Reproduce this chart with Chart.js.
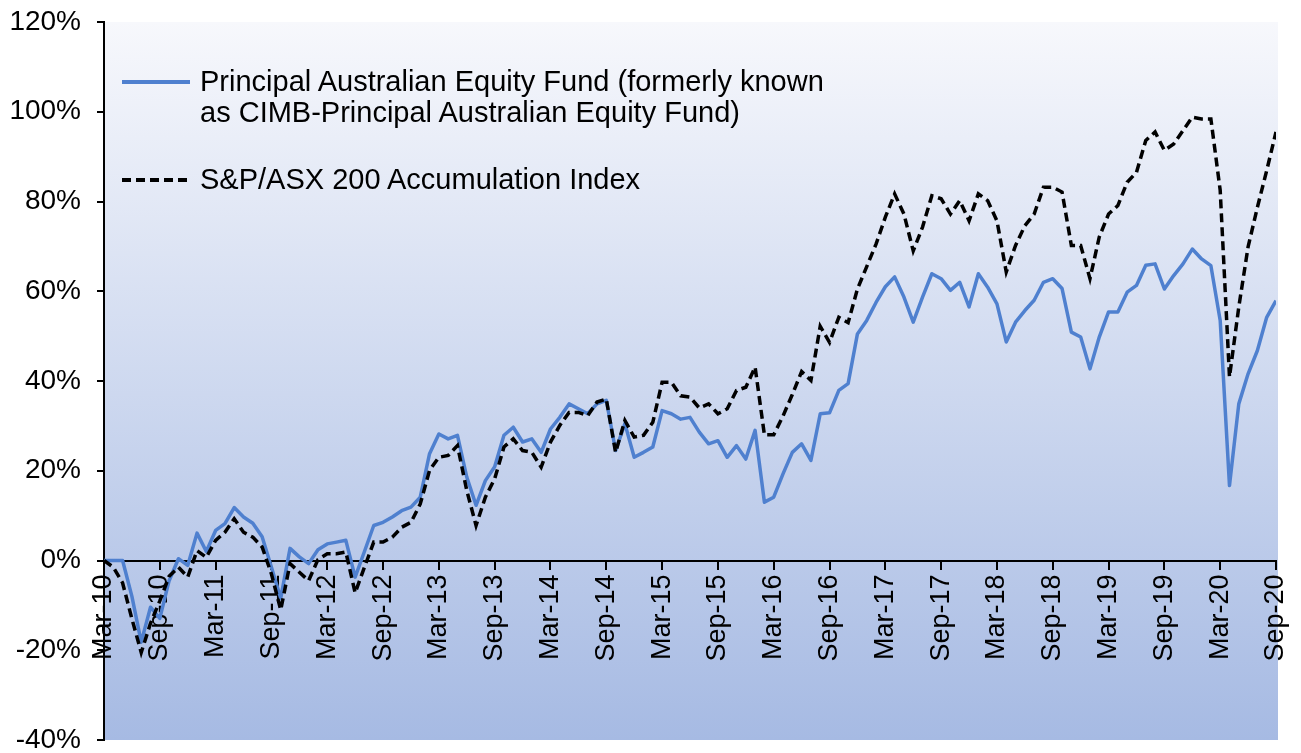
<!DOCTYPE html>
<html>
<head>
<meta charset="utf-8">
<script src="https://cdn.jsdelivr.net/npm/chart.js@4.4.1/dist/chart.umd.min.js"></script>
<style>
  html, body { margin: 0; padding: 0; background: #fff; }
  .wrap { position: relative; width: 1301px; height: 753px; }
  canvas { display: block; }
  .legend { position: absolute; left: 0; top: 0; font-family: "Liberation Sans", Arial, sans-serif; font-size: 29px; color: #000; }
  .legend div { position: absolute; white-space: nowrap; line-height: 31px; }
  .legend .s { position: absolute; left: 0; width: 68px; height: 4px; }
  .legend .t { display: inline-block; margin-left: 78px; }
</style>
</head>
<body>
<div class="wrap">
  <canvas id="perfChart" width="1301" height="753"></canvas>
  <div class="legend" id="legend"></div>
</div>
<script>
const monthNames = ["Jan","Feb","Mar","Apr","May","Jun","Jul","Aug","Sep","Oct","Nov","Dec"];
// monthly categories, Mar-10 .. Sep-20
const months = [];
for (let i = 0; i < 127; i++) {
  const k = 2 + i;
  months.push(monthNames[k % 12] + "-" + (10 + Math.floor(k / 12)));
}
const tickLabels = ["Mar-10","Sep-10","Mar-11","Sep-11","Mar-12","Sep-12","Mar-13","Sep-13",
  "Mar-14","Sep-14","Mar-15","Sep-15","Mar-16","Sep-16","Mar-17","Sep-17","Mar-18","Sep-18",
  "Mar-19","Sep-19","Mar-20","Sep-20"];
const yTicks = [-40, -20, 0, 20, 40, 60, 80, 100, 120];

const fundName = ["Principal Australian Equity Fund (formerly known", "as CIMB-Principal Australian Equity Fund)"];
const indexName = "S&P/ASX 200 Accumulation Index";

const fund = [
  0, 0, 0, -8, -18.2, -10.4, -12.9, -4.5, 0.4, -1.1,
  6.1, 2.0, 6.7, 8.2, 11.8, 9.7, 8.3, 5.3, -1.5, -8.4,
  2.7, 0.8, -0.7, 2.4, 3.7, 4.1, 4.5, -3.7, 2.0, 7.8,
  8.5, 9.7, 11.1, 11.9, 14.1, 23.8, 28.2, 27.1, 27.9, 18.6,
  12.3, 17.8, 20.9, 27.9, 29.7, 26.4, 27.1, 24.1, 29.3, 31.9,
  34.9, 33.8, 32.7, 34.9, 35.7, 24.5, 30.5, 23.0, 24.1, 25.3,
  33.4, 32.7, 31.5, 31.9, 28.6, 26.0, 26.7, 23.0, 25.6, 22.6,
  29.0, 13.0, 14.1, 19.3, 24.1, 26.0, 22.3, 32.7, 32.9, 37.9,
  39.4, 50.5, 53.5, 57.5, 61.0, 63.2, 58.7, 53.1, 58.7, 63.9,
  62.8, 60.2, 62.0, 56.5, 63.9, 60.9, 57.2, 48.7, 53.1, 55.7,
  58.0, 62.0, 62.8, 60.6, 50.9, 49.8, 42.7, 49.8, 55.4, 55.4,
  59.8, 61.3, 65.8, 66.1, 60.5, 63.5, 66.1, 69.4, 67.2, 65.7,
  53.5, 16.7, 34.9, 41.6, 46.8, 54.2, 57.9
];
const benchmark = [
  0, -1.5, -5, -13, -20.5, -14, -9, -3.5, -1.5, -3.7,
  2.2, 0.7, 4.5, 6.3, 9.3, 6.3, 5.2, 3.0, -3.0, -11.0,
  -0.7, -2.6, -4.5, 0.2, 1.5, 1.5, 1.9, -7.2, -1.5, 4.1,
  4.1, 5.2, 7.4, 8.5, 12.6, 20.1, 23.0, 23.4, 25.6, 15.6,
  7.8, 14.1, 18.2, 25.3, 27.1, 24.5, 24.1, 20.8, 26.4, 30.1,
  33.0, 33.0, 32.3, 35.3, 36.0, 24.1, 31.2, 27.5, 27.9, 30.8,
  39.7, 39.7, 36.7, 36.4, 34.0, 34.9, 32.7, 33.8, 37.9, 38.6,
  43.1, 28.0, 28.0, 32.2, 37.0, 42.1, 40.1, 52.2, 48.6, 54.2,
  53.0, 60.5, 65.5, 70.5, 76.5, 81.7, 77.2, 69.0, 74.3, 81.3,
  80.6, 77.2, 80.2, 75.7, 81.7, 80.2, 75.7, 64.3, 70.2, 74.6,
  77.2, 83.2, 83.2, 82.1, 70.2, 70.2, 62.8, 72.1, 77.2, 79.1,
  84.3, 86.5, 93.6, 95.5, 91.4, 92.8, 95.8, 98.8, 98.4, 98.4,
  82.5, 40.9, 56.5, 69.9, 78.7, 86.9, 95.5
];

const blue = "#4f80cf";
const fontFamily = '"Liberation Sans", Arial, sans-serif';

const plotBackground = {
  id: "plotBackground",
  beforeDraw(chart) {
    const {ctx, chartArea: a} = chart;
    const g = ctx.createLinearGradient(0, a.top, 0, a.bottom);
    g.addColorStop(0, "#f7f8fc");
    g.addColorStop(1, "#a6bae3");
    ctx.save();
    ctx.fillStyle = g;
    ctx.fillRect(a.left, a.top, a.right - a.left + 2, a.bottom - a.top);
    ctx.restore();
  }
};

Chart.defaults.font.family = fontFamily;
Chart.defaults.color = "#000";

new Chart(document.getElementById("perfChart"), {
  type: "line",
  data: {
    labels: months.map((m, i) => i),
    datasets: [
      {
        label: fundName.join(" "),
        data: fund,
        borderColor: blue,
        borderWidth: 3.5,
        pointRadius: 0,
        tension: 0,
        borderJoinStyle: "round",
        order: 1
      },
      {
        label: indexName,
        data: benchmark,
        borderColor: "#000",
        borderWidth: 3.5,
        borderDash: [9, 5],
        pointRadius: 0,
        tension: 0,
        order: 0
      }
    ]
  },
  options: {
    responsive: false,
    animation: false,
    layout: { padding: { top: 22, right: 25, bottom: 13, left: 0 } },
    plugins: { legend: { display: false }, tooltip: { enabled: false } },
    scales: {
      x: {
        type: "linear",
        position: { y: 0 },
        min: 0,
        max: months.length - 1,
        afterFit: s => { s.paddingLeft = 0; s.paddingRight = 0; },
        grid: { drawOnChartArea: false, color: "#000", lineWidth: 2, tickLength: 8 },
        border: { color: "#000", width: 2 },
        ticks: {
          stepSize: 6,
          autoSkip: false,
          minRotation: 90,
          maxRotation: 90,
          padding: 6,
          font: { size: 27 },
          callback: v => tickLabels[v / 6]
        }
      },
      y: {
        min: yTicks[0],
        max: yTicks[yTicks.length - 1],
        afterFit: s => { s.width = 104; s.paddingTop = 0; s.paddingBottom = 0; },
        grid: { drawOnChartArea: false, color: "#000", lineWidth: 2, tickLength: 7 },
        border: { color: "#000", width: 2 },
        ticks: {
          stepSize: 20,
          padding: 16,
          font: { size: 28 },
          callback: v => v + "%"
        }
      }
    }
  },
  plugins: [plotBackground]
});

// legend drawn as html over the plot, like the original
const legend = document.getElementById("legend");
legend.innerHTML = `
  <div style="left:122px;top:66px">
    <span class="s" style="top:14px;background:${blue}"></span>
    <span class="t">${fundName[0]}<br>${fundName[1]}</span>
  </div>
  <div style="left:122px;top:164px">
    <span class="s" style="top:14px;background:repeating-linear-gradient(90deg,#000 0 9px,transparent 9px 14px)"></span>
    <span class="t">${indexName.replace("&", "&amp;")}</span>
  </div>`;
</script>
</body>
</html>
